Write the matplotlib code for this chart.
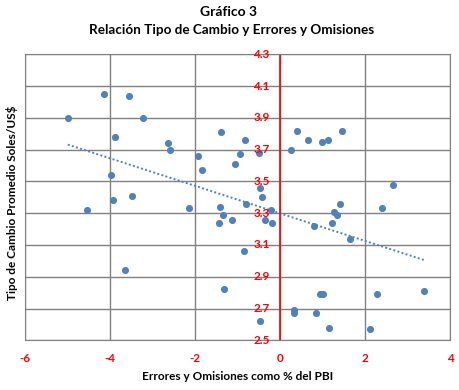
import numpy as np
import matplotlib.pyplot as plt

plt.rcParams['font.family'] = ['Lato', 'DejaVu Sans']

# Errores y Omisiones (% PBI) vs tipo de cambio promedio
errores = [-5.00, -4.16, -3.55, -3.22, -3.88, -2.64, -2.59, -1.39, -0.82, -1.93,
           -0.96, -1.84, -1.06, -3.98, -3.93, -3.48, -4.54, -2.16, -1.41, -0.80,
           -1.35, -1.44, -1.14, -0.85, -3.65, -1.32, -0.49, 0.25, 0.40, 0.66,
           0.99, 1.13, 1.46, -0.47, -0.42, -0.23, 2.66, 1.41, 1.27, 1.34,
           2.40, -0.35, -0.20, 1.22, 0.79, 1.65, 3.39, 2.28, 0.93, 1.01,
           0.31, 0.33, 0.85, -0.47, 1.15, 2.10]
tipo_cambio = [3.90, 4.05, 4.04, 3.90, 3.78, 3.74, 3.70, 3.81, 3.76, 3.66,
               3.67, 3.57, 3.61, 3.54, 3.38, 3.41, 3.32, 3.33, 3.34, 3.36,
               3.29, 3.24, 3.26, 3.06, 2.94, 2.82, 3.68, 3.70, 3.82, 3.76,
               3.75, 3.76, 3.82, 3.46, 3.40, 3.32, 3.48, 3.36, 3.31, 3.29,
               3.33, 3.26, 3.24, 3.24, 3.22, 3.14, 2.81, 2.79, 2.79, 2.79,
               2.69, 2.67, 2.67, 2.62, 2.58, 2.57]

x_ticks = [-6, -4, -2, 0, 2, 4]
y_ticks = [2.5, 2.7, 2.9, 3.1, 3.3, 3.5, 3.7, 3.9, 4.1, 4.3]

x = np.array(errores)
y = np.array(tipo_cambio)

fig = plt.figure(figsize=(4.6, 3.9), dpi=100)
ax = fig.add_axes([0.055, 0.1274, 0.924, 0.7334])

ax.scatter(x, y, s=26, color='#4F81BD', zorder=3, linewidths=0)

# linea de tendencia lineal
m, b = np.polyfit(x, y, 1)
xt = np.array([x.min(), x.max()])
ax.plot(xt, m * xt + b, color='#4F81BD', linestyle=(0, (1, 1.2)), linewidth=1.4, zorder=2)

ax.set_xlim(-6, 4)
ax.set_ylim(2.5, 4.3)
ax.set_xticks(x_ticks)
ax.set_yticks(y_ticks)
ax.grid(True, color='#808080', linewidth=1)
ax.set_axisbelow(True)
for s in ax.spines.values():
    s.set_color('#808080')
ax.tick_params(length=0)
ax.set_xticklabels([str(v) for v in x_ticks], color='red', fontsize=8.5, fontweight='bold')
ax.set_yticklabels([])
ax.tick_params(axis='x', pad=9)

# eje vertical rojo en x=0 con sus etiquetas
ax.axvline(0, color='red', linewidth=1.2, zorder=2)
for v in y_ticks:
    ax.text(-0.25, v, f'{v:.1f}', color='red', fontsize=8.5, fontweight='bold',
            ha='right', va='center', zorder=4)

ax.set_xlabel('Errores y Omisiones como % del PBI', fontsize=8.5, fontweight='bold', labelpad=5)
fig.text(0.027, 0.48, 'Tipo de Cambio Promedio Soles/US$', rotation=90, fontsize=8.5,
         fontweight='bold', ha='center', va='center')

fig.text(0.496, 0.97, 'Gráfico 3', fontsize=10, fontweight='bold', ha='center', va='center')
fig.text(0.503, 0.922, 'Relación Tipo de Cambio y Errores y Omisiones', fontsize=9.7,
         fontweight='bold', ha='center', va='center')

fig.savefig('out.png', dpi=100)
